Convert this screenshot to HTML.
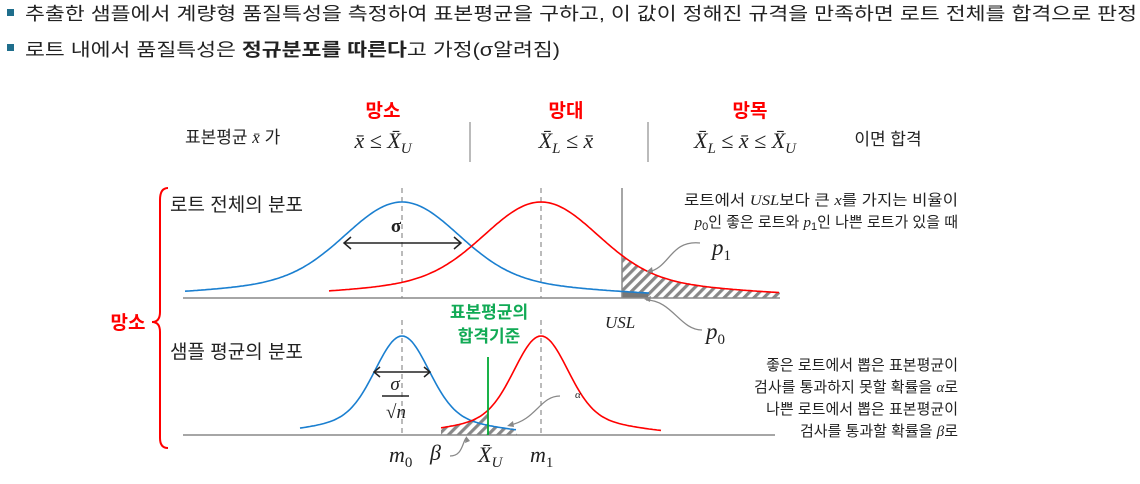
<!DOCTYPE html>
<html><head><meta charset="utf-8"><style>
html,body{margin:0;padding:0;background:#fff;}
svg{display:block;}
.k{font-family:"Liberation Sans","Noto Sans CJK KR",sans-serif;}
.m{font-family:"Liberation Serif","DejaVu Serif",serif;font-style:italic;}
</style></head><body>
<svg id="s" width="1140" height="484" viewBox="0 0 1140 484" xmlns="http://www.w3.org/2000/svg">
<defs>
<pattern id="h" width="7" height="7" patternUnits="userSpaceOnUse" patternTransform="rotate(45)">
<rect width="7" height="7" fill="#fff"/><rect width="3.2" height="7" fill="#888"/></pattern>
</defs>
<rect x="7" y="9" width="7" height="7" fill="#1f6e8c"/>
<rect x="7" y="44" width="7" height="7" fill="#1f6e8c"/>
<text class="k" x="25" y="20" font-size="18" fill="#222" textLength="1112" lengthAdjust="spacingAndGlyphs">추출한 샘플에서 계량형 품질특성을 측정하여 표본평균을 구하고, 이 값이 정해진 규격을 만족하면 로트 전체를 합격으로 판정</text>
<text class="k" x="25" y="56" font-size="18" fill="#222" textLength="535" lengthAdjust="spacingAndGlyphs">로트 내에서 품질특성은 <tspan font-weight="bold">정규분포를 따른다</tspan>고 가정(σ알려짐)</text>

<g class="k" font-size="19" font-weight="bold" fill="#f00" text-anchor="middle">
<text x="383" y="117">망소</text><text x="566" y="117">망대</text><text x="750" y="117">망목</text></g>
<text class="k" x="185" y="143" font-size="17" fill="#222">표본평균 <tspan class="m">x̄</tspan> 가</text>
<g class="m" font-size="22" fill="#222" text-anchor="middle">
<text x="383" y="148">x̄ ≤ X̄<tspan font-size="15" dy="5">U</tspan></text>
<text x="566" y="148">X̄<tspan font-size="15" dy="5">L</tspan><tspan dy="-5"> ≤ x̄</tspan></text>
<text x="745" y="148">X̄<tspan font-size="15" dy="5">L</tspan><tspan dy="-5"> ≤ x̄ ≤ X̄</tspan><tspan font-size="15" dy="5">U</tspan></text>
</g>
<text class="k" x="888" y="145" font-size="17" fill="#222" text-anchor="middle">이면 합격</text>
<line x1="470" y1="122" x2="470" y2="162" stroke="#777"/>
<line x1="648" y1="122" x2="648" y2="162" stroke="#777"/>

<path d="M168,188 Q160,188 160,200 L160,312 Q160,322 152,322 Q160,322 160,332 L160,438 Q160,448 168,448" fill="none" stroke="#f00" stroke-width="2"/>
<text class="k" x="128" y="329" font-size="19" font-weight="bold" fill="#f00" text-anchor="middle">망소</text>

<text class="k" x="170" y="211" font-size="19" fill="#222">로트 전체의 분포</text>
<text class="k" x="170" y="358" font-size="19" fill="#222">샘플 평균의 분포</text>

<line x1="402" y1="188" x2="402" y2="298" stroke="#777" stroke-dasharray="5,4"/>
<line x1="541" y1="188" x2="541" y2="298" stroke="#777" stroke-dasharray="5,4"/>
<line x1="402" y1="320" x2="402" y2="435" stroke="#777" stroke-dasharray="5,4"/>
<line x1="541" y1="320" x2="541" y2="435" stroke="#777" stroke-dasharray="5,4"/>

<path id="hatchTop" fill="url(#h)"/>
<path id="grayTop" fill="#777"/>
<path id="hatchBot" fill="url(#h)"/>

<line x1="183" y1="298" x2="780" y2="298" stroke="#888" stroke-width="1.5"/>
<line x1="183" y1="435" x2="775" y2="435" stroke="#888" stroke-width="1.5"/>
<line x1="622" y1="188" x2="622" y2="298" stroke="#888" stroke-width="1.5"/>

<path id="b1" fill="none" stroke="#1a7fd0" stroke-width="1.6"/>
<path id="r1" fill="none" stroke="#f00" stroke-width="1.6"/>
<path id="b2" fill="none" stroke="#1a7fd0" stroke-width="1.6"/>
<path id="r2" fill="none" stroke="#f00" stroke-width="1.6"/>
<line x1="488" y1="357" x2="488" y2="435" stroke="#0a3" stroke-width="1.8"/>

<g stroke="#222" stroke-width="1.5" fill="none">
<line x1="344" y1="243" x2="461" y2="243"/>
<path d="M351,237 L344,243 L351,249 M454,237 L461,243 L454,249"/>
<line x1="374" y1="372" x2="430" y2="372"/>
<path d="M380,367 L374,372 L380,377 M424,367 L430,372 L424,377"/>
</g>
<text x="396" y="232" font-size="19" font-weight="bold" fill="#222" text-anchor="middle" font-family="Liberation Serif,serif">σ</text>
<text class="m" x="395" y="390" font-size="19" fill="#222" text-anchor="middle">σ</text>
<line x1="382" y1="396" x2="409" y2="396" stroke="#222" stroke-width="1.5"/>
<text class="m" x="396" y="418" font-size="19" fill="#222" text-anchor="middle">√n</text>

<g class="k" font-size="17" font-weight="bold" fill="#1a5" text-anchor="middle">
<text x="489" y="318">표본평균의</text><text x="489" y="342">합격기준</text></g>

<g stroke="#888" stroke-width="1.3" fill="none">
<path d="M700,243 C670,240 670,268 648,272"/>
<path d="M702,330 C680,330 672,300 646,300"/>
<path d="M560,396 C540,396 536,420 510,425"/>
<path d="M450,456 C462,456 462,444 466,438"/>
</g>
<g fill="#888"><path d="M646,272 l6,-5 l1,6z"/><path d="M644,299 l7,-3 l-1,6z"/><path d="M507,426 l6,-5 l1,6z"/><path d="M466,436 l-1,7 l5,-2z"/></g>

<text class="m" x="605" y="328" font-size="17" fill="#222">USL</text>
<text class="m" x="712" y="255" font-size="23" fill="#222">p<tspan font-size="15" dy="5" font-style="normal">1</tspan></text>
<text class="m" x="706" y="339" font-size="23" fill="#222">p<tspan font-size="15" dy="5" font-style="normal">0</tspan></text>
<text class="m" x="575" y="398" font-size="11" fill="#222">α</text>
<text class="m" x="389" y="462" font-size="22" fill="#222">m<tspan font-size="15" dy="5" font-style="normal">0</tspan></text>
<text class="m" x="430" y="460" font-size="22" fill="#222">β</text>
<text class="m" x="478" y="462" font-size="22" fill="#222">X̄<tspan font-size="15" dy="5">U</tspan></text>
<text class="m" x="530" y="462" font-size="22" fill="#222">m<tspan font-size="15" dy="5" font-style="normal">1</tspan></text>

<g class="k" font-size="15" fill="#222" text-anchor="end">
<text x="958" y="205" textLength="274" lengthAdjust="spacingAndGlyphs">로트에서 <tspan class="m">USL</tspan>보다 큰 <tspan class="m">x</tspan>를 가지는 비율이</text>
<text x="958" y="227"><tspan class="m">p</tspan><tspan font-size="11" dy="3">0</tspan><tspan dy="-3">인 좋은 로트와 </tspan><tspan class="m">p</tspan><tspan font-size="11" dy="3">1</tspan><tspan dy="-3">인 나쁜 로트가 있을 때</tspan></text>
<text x="958" y="370">좋은 로트에서 뽑은 표본평균이</text>
<text x="958" y="392">검사를 통과하지 못할 확률을 <tspan class="m">α</tspan>로</text>
<text x="958" y="414">나쁜 로트에서 뽑은 표본평균이</text>
<text x="958" y="436">검사를 통과할 확률을 <tspan class="m">β</tspan>로</text>
</g>
</svg>
<script>
function f(x,m,base,h,s1,s2){var d=x-m;return base-h*(0.8*Math.exp(-d*d/(2*s1*s1))+0.2*Math.exp(-d*d/(2*s2*s2)));}
function P(a,b,m,base,h,s1,s2){var p="";for(var x=a;x<=b;x+=2){p+=(x==a?"M":"L")+x+","+f(x,m,base,h,s1,s2).toFixed(1);}return p;}
function A(a,b,m,base,h,s1,s2){var p="M"+a+","+base;for(var x=a;x<=b;x+=1){p+="L"+x+","+f(x,m,base,h,s1,s2).toFixed(1);}return p+"L"+b+","+base+"Z";}
var g=function(i){return document.getElementById(i)};
g("b1").setAttribute("d",P(185,649,402,298,96,55,150));
g("r1").setAttribute("d",P(329,779,541,298,96,55,150));
g("hatchTop").setAttribute("d",A(622,780,541,298,96,55,150));
g("grayTop").setAttribute("d",A(622,648,402,298,96,55,150));
g("b2").setAttribute("d",P(300,517,402,435,99,26,70));
g("r2").setAttribute("d",P(441,661,541,435,99,26,70));
var h=A(441,488,541,435,99,26,70)+" "+A(488,517,402,435,99,26,70);
g("hatchBot").setAttribute("d",h);
</script>
</body></html>
